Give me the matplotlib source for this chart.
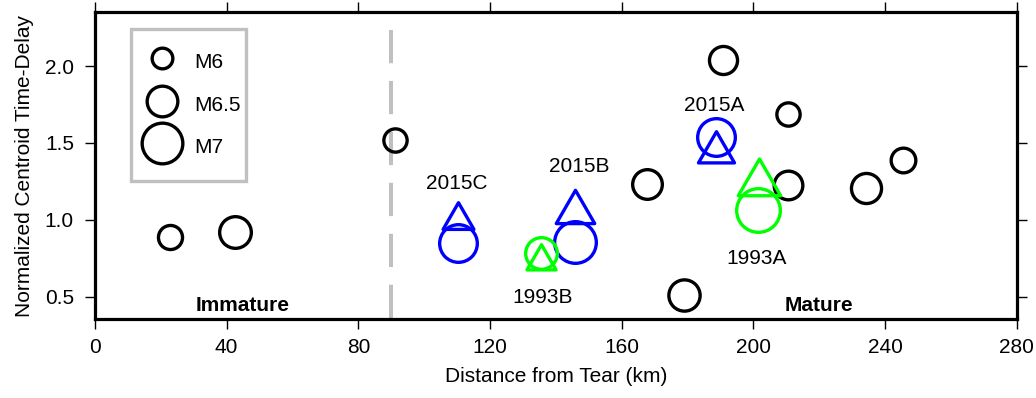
import numpy as np
import matplotlib
matplotlib.use("Agg")
import matplotlib.pyplot as plt
from matplotlib.lines import Line2D
from matplotlib.path import Path
from matplotlib.markers import MarkerStyle
from matplotlib.patches import Rectangle

plt.rcParams['font.family'] = ['Liberation Sans', 'DejaVu Sans']

# ---------------- data ----------------
# background earthquakes (black circles)
bg_dist = [22.8, 42.5, 91.2, 190.9, 210.6, 167.8, 210.6, 234.3, 245.6, 179.0]
bg_delay = [0.888, 0.919, 1.52, 2.04, 1.688, 1.232, 1.226, 1.207, 1.389, 0.51]
bg_mag = [6.17, 6.55, 6.13, 6.37, 6.13, 6.45, 6.40, 6.47, 6.20, 6.53]

# highlighted events
ev_names = ["2015A", "2015B", "2015C", "1993A", "1993B"]
ev_group = ["2015", "2015", "2015", "1993", "1993"]
ev_dist_circ = [188.5, 145.9, 110.3, 201.4, 135.5]
ev_delay_circ = [1.538, 0.858, 0.849, 1.061, 0.784]
ev_mag_circ = [6.85, 7.05, 6.85, 7.15, 6.55]
ev_dist_tri = [188.5, 145.9, 110.2, 201.7, 135.5]
ev_delay_tri = [1.440, 1.050, 1.000, 1.240, 0.735]
ev_mag_tri = [6.88, 7.02, 6.58, 7.25, 6.48]

legend_mags = [6.0, 6.5, 7.0]
legend_labels = ["M6", "M6.5", "M7"]

tear_boundary = 90
x_ticks = [0, 40, 80, 120, 160, 200, 240, 280]
y_ticks = [0.5, 1.0, 1.5, 2.0]

# ---------------- style ----------------
group_color = {"2015": "#0000ff", "1993": "#00ff00"}
label_pos = {"2015A": (188.0, 1.741), "2015B": (147.0, 1.344), "2015C": (110.0, 1.238),
             "1993A": (201.1, 0.750), "1993B": (136.0, 0.494)}
MEW = 2.4  # pt


def diam_px(m):
    return 24 + 20 * (np.asarray(m) - 6.0)


def circ_ms(m):
    return diam_px(m) * 0.72 - MEW


def tri_ms(m):
    return diam_px(m) * 0.72


tri_path = Path([(0, 1), (-0.8660254, -0.5), (0.8660254, -0.5), (0, 1)],
                [Path.MOVETO, Path.LINETO, Path.LINETO, Path.CLOSEPOLY])
tri_marker = MarkerStyle(tri_path, joinstyle='miter')

fig = plt.figure(figsize=(10.36, 3.98), dpi=100)
ax = fig.add_axes([95 / 1036, (398 - 319.3) / 398, 921.7 / 1036, 307 / 398])

ax.set_xlim(0, 280)
ax.set_ylim(0.353, 2.35)

# boundary
ax.plot([tear_boundary, tear_boundary], [2.235, 0.30], color='#c0c0c0', lw=2.9,
        dashes=(8.25, 4.4), solid_capstyle='butt', dash_capstyle='butt', zorder=1)

for x, y, m in zip(bg_dist, bg_delay, bg_mag):
    ax.plot([x], [y], marker='o', ms=circ_ms(m), mfc='none', mec='black', mew=MEW,
            ls='none', zorder=2)

for name, g, xc, yc, mc, xt, yt, mt in zip(ev_names, ev_group, ev_dist_circ, ev_delay_circ,
                                           ev_mag_circ, ev_dist_tri, ev_delay_tri, ev_mag_tri):
    col = group_color[g]
    ax.plot([xc], [yc], marker='o', ms=circ_ms(mc), mfc='none', mec=col, mew=MEW,
            ls='none', zorder=3)
    ax.plot([xt], [yt], marker=tri_marker, ms=tri_ms(mt), mfc='none', mec=col, mew=MEW,
            ls='none', zorder=4)
    lx, ly = label_pos[name]
    ax.text(lx, ly, name, ha='center', va='center', fontsize=15, zorder=5)

ax.text(44.8, 0.446, "Immature", ha='center', va='center', fontsize=15, fontweight='bold')
ax.text(220.0, 0.446, "Mature", ha='center', va='center', fontsize=15, fontweight='bold')

# legend
ax.add_patch(Rectangle((0.0391, 0.4515), 0.1244, 0.4931, transform=ax.transAxes,
                       fill=False, edgecolor='#c0c0c0', lw=2.4, zorder=6))
handles = [Line2D([], [], marker='o', ms=circ_ms(m), mfc='none', mec='black', mew=MEW,
                  ls='none') for m in legend_mags]
ax.legend(handles, legend_labels, loc='upper left', bbox_to_anchor=(0.0503, 0.884),
          bbox_transform=ax.transAxes, frameon=False, borderpad=0, borderaxespad=0,
          handlelength=2.0, handletextpad=0.54, labelspacing=0.76, handleheight=1.6,
          fontsize=15)

ax.set_xticks(x_ticks)
ax.set_yticks(y_ticks)
ax.set_yticklabels([f"{v:.1f}" for v in y_ticks])
ax.tick_params(direction='out', length=7.2, width=1.0, top=True, right=True,
               labeltop=False, labelright=False, labelsize=15)
ax.tick_params(axis='x', pad=6.5)
ax.tick_params(axis='y', pad=8)
for s in ax.spines.values():
    s.set_linewidth(2.3)

ax.set_xlabel("Distance from Tear (km)", fontsize=15, labelpad=7)
ax.set_ylabel("Normalized Centroid Time-Delay", fontsize=15, labelpad=8)

fig.savefig("out.png", dpi=100)
